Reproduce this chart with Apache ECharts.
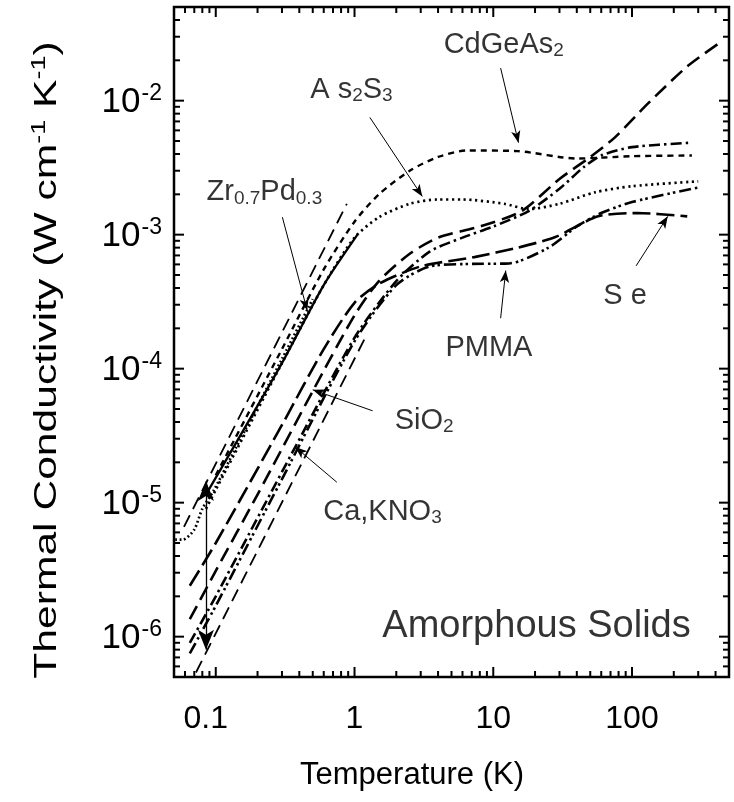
<!DOCTYPE html>
<html><head><meta charset="utf-8">
<script src="https://cdn.jsdelivr.net/npm/echarts@6/dist/echarts.min.js"></script>
<style>html,body{margin:0;padding:0;background:#fff}#c{width:734px;height:802px}</style>
</head><body><div id="c"></div>
<script>
// ---- data (T in K, kappa in W cm^-1 K^-1) ----
const upperBoundT = [0.059, 0.88];
const upperBoundK = [6.6e-6, 1.7e-3];
const lowerBoundT = [0.072, 1.22];
const lowerBoundK = [5.4e-7, 1.78e-4];
const zrpdT = [0.051, 0.058, 0.07, 0.08, 0.097, 0.15, 0.3, 0.5];
const zrpdK = [5.3e-6, 5.3e-6, 6.3e-6, 9.0e-6, 1.24e-5, 2.96e-5, 1.18e-4, 3.3e-4];
const solidT = [0.085, 0.3, 0.6, 1.05];
const solidK = [1.15e-5, 1.1e-4, 4.2e-4, 1.0e-3];
const as2s3T = [0.085, 0.1, 0.3, 0.6, 1, 1.5, 2.5, 4, 6, 12, 18, 30, 54, 100, 300];
const as2s3K = [9e-6, 1.25e-5, 1.1e-4, 4.2e-4, 9.5e-4, 1.35e-3, 1.7e-3, 1.83e-3, 1.83e-3, 1.7e-3, 1.55e-3, 1.7e-3, 2.07e-3, 2.3e-3, 2.5e-3];
const cdgeT = [0.1, 0.3, 0.6, 1, 1.5, 2.5, 4, 6.5, 15, 40, 100, 270];
const cdgeK = [1.6e-5, 1.4e-4, 5.5e-4, 1.25e-3, 2.0e-3, 3.0e-3, 3.8e-3, 4.25e-3, 4.2e-3, 3.7e-3, 3.85e-3, 3.9e-3];
const sio2T = [0.065, 0.1, 0.2, 0.5, 1, 1.5, 2.5, 4, 8, 16, 30, 50, 75, 130, 250, 450];
const sio2K = [1.35e-6, 3.1e-6, 1.15e-5, 6.8e-5, 2.5e-4, 4.5e-4, 7.2e-4, 9.5e-4, 1.15e-3, 1.5e-3, 2.6e-3, 3.8e-3, 5.3e-3, 9.5e-3, 1.8e-2, 2.8e-2];
const caknoT = [0.065, 0.1, 0.374, 1, 2, 3.5, 6, 10, 18, 30, 45, 60, 100, 265];
const caknoK = [9e-7, 2.0e-6, 2.6e-5, 1.7e-4, 4.5e-4, 7.5e-4, 9.5e-4, 1.15e-3, 1.5e-3, 2.2e-3, 3.2e-3, 3.9e-3, 4.5e-3, 4.85e-3];
const pmmaT = [0.065, 0.1, 0.3, 1, 2, 3.5, 7, 13, 25, 40, 60, 100, 300];
const pmmaK = [7.5e-7, 1.7e-6, 1.5e-5, 1.6e-4, 4.2e-4, 5.8e-4, 6.05e-4, 6.1e-4, 8e-4, 1.15e-3, 1.45e-3, 1.75e-3, 2.25e-3];
const seT = [0.065, 0.1, 0.3, 0.6, 1, 1.5, 3, 7.3, 15, 28, 57, 110, 250];
const seK = [2.4e-6, 5e-6, 3.8e-5, 1.4e-4, 3.1e-4, 4.3e-4, 5.8e-4, 6.8e-4, 8e-4, 9.6e-4, 1.37e-3, 1.45e-3, 1.37e-3];
// spread arrow at T = 0.085 K
const spreadT = [0.085, 0.085];
const spreadK = [1.45e-5, 8.0e-7];
// annotation texts
const labelT = [11.9, 0.95, 0.224, 89, 9.3, 3.18, 1.59, 20.5];
const labelK = [2.6e-2, 1.2e-2, 2.07e-3, 3.5e-4, 1.42e-4, 4.1e-5, 8.5e-6, 1.2e-6];
const labelText = ['CdGeAs{s|2}', 'A s{s|2}S{s|3}', 'Zr{s|0.7}Pd{s|0.3}', 'S e', 'PMMA', 'SiO{s|2}', 'Ca,KNO{s|3}', '{big|Amorphous Solids}'];
// annotation arrows: from -> to
const arrowFromT = [11.3, 1.29, 0.302, 107, 11.3, 1.35, 0.746];
const arrowFromK = [1.75e-2, 7.5e-3, 1.35e-3, 5.85e-4, 2.38e-4, 4.85e-5, 1.42e-5];
const arrowToT = [15.2, 3.08, 0.456, 181, 12.3, 0.50, 0.374];
const arrowToK = [4.86e-3, 1.93e-3, 2.72e-4, 1.37e-3, 5.4e-4, 6.95e-5, 2.6e-5];
// axes
const xMin = 0.05, xMax = 500, yMin = 5e-7, yMax = 5e-2;
const xMinorTicks = [];
const yMinorTicks = [];
[0.01,0.1,1,10,100].forEach(d=>{for(let m=1;m<10;m++){const v=d*m; if(v>=xMin&&v<=xMax) xMinorTicks.push([v, m===1]);}});
[1e-7,1e-6,1e-5,1e-4,1e-3,1e-2].forEach(d=>{for(let m=1;m<10;m++){const v=d*m; if(v>=yMin*0.999&&v<=yMax*1.001) yMinorTicks.push([v, m===1]);}});

const FONT = '"Liberation Sans", Arial, Helvetica, sans-serif';
const zip = (a,b)=>a.map((v,i)=>[v,b[i]]);
function curve(T,K,dash,width,smooth){
  return {type:'line', data: zip(T,K), showSymbol:false, symbol:'none', smooth: smooth===undefined?0.25:smooth,
    lineStyle:{color:'#000', width: width||2, type: dash, cap:'butt'}, silent:true, z:3};
}
const chart = echarts.init(document.getElementById('c'), null, {renderer:'canvas'});
const series = [
  curve(upperBoundT, upperBoundK, [13,7], 1.8, false),
  curve(lowerBoundT, lowerBoundK, [13,7], 1.8, false),
  curve(zrpdT, zrpdK, [1.8,2.6], 2.7),
  curve(solidT, solidK, 'solid', 2.3),
  curve(as2s3T, as2s3K, [2.2,3.6], 2.7),
  curve(cdgeT, cdgeK, [6,5], 2.4),
  curve(sio2T, sio2K, [15,7], 2.6),
  curve(caknoT, caknoK, [11,4,2.5,4], 2.6),
  curve(pmmaT, pmmaK, [12,4,2.5,3,2.5,4], 2.6),
  curve(seT, seK, [18,6], 2.6),
  {type:'line', data: zip(spreadT, spreadK), symbol:'none', lineStyle:{opacity:0}, silent:true,
    markLine:{silent:true, symbol:['arrow','arrow'], symbolSize:[12,20], label:{show:false},
      lineStyle:{color:'#000', width:1.3, type:'solid'},
      data:[[{coord:[spreadT[0], spreadK[0]]},{coord:[spreadT[1], spreadK[1]]}]]}},
  {type:'line', data: [], symbol:'none', silent:true,
    markLine:{silent:true, symbol:['none','arrow'], symbolSize:[7,12], label:{show:false},
      lineStyle:{color:'#000', width:1, type:'solid'},
      data: arrowFromT.map((t,i)=>[{coord:[t, arrowFromK[i]]},{coord:[arrowToT[i], arrowToK[i]]}])}},
  {type:'scatter', symbolSize:1, itemStyle:{color:'rgba(0,0,0,0)'}, silent:true, z:5,
    data: labelT.map((t,i)=>[t, labelK[i], labelText[i]]),
    label:{show:true, position:'inside', color:'#000', fontFamily:FONT, fontSize:29,
      formatter: p=>p.data[2],
      rich:{ s:{fontSize:19, fontFamily:FONT, color:'#000', verticalAlign:'bottom', padding:[12,0,0,0]},
             big:{fontSize:38, fontFamily:FONT, color:'#000'} }}},
  {type:'custom', silent:true, clip:false, z:6, data: xMinorTicks.map(d=>[d[0], yMin, d[1]?1:0]),
    renderItem:(params, api)=>{
      const v = api.value(0), major = api.value(2)===1, len = major?10:6;
      const b = api.coord([v, yMin]), t = api.coord([v, yMax]);
      const st = {stroke:'#000', lineWidth:2};
      return {type:'group', children:[
        {type:'line', shape:{x1:b[0],y1:b[1],x2:b[0],y2:b[1]-len}, style:st},
        {type:'line', shape:{x1:t[0],y1:t[1],x2:t[0],y2:t[1]+len}, style:st}]};
    }},
  {type:'custom', silent:true, clip:false, z:6, data: yMinorTicks.map(d=>[xMin, d[0], d[1]?1:0]),
    renderItem:(params, api)=>{
      const v = api.value(1), major = api.value(2)===1, len = major?10:6;
      const l = api.coord([xMin, v]), r = api.coord([xMax, v]);
      const st = {stroke:'#000', lineWidth:2};
      return {type:'group', children:[
        {type:'line', shape:{x1:l[0],y1:l[1],x2:l[0]+len,y2:l[1]}, style:st},
        {type:'line', shape:{x1:r[0],y1:r[1],x2:r[0]-len,y2:r[1]}, style:st}]};
    }}
];
function isPow10(v){const l=Math.log10(v); return Math.abs(l-Math.round(l))<1e-6;}
chart.setOption({
  animation:false,
  backgroundColor:'#fff',
  grid:{left:174, top:7, right:5, bottom:125, show:true, borderColor:'#000', borderWidth:2.5, backgroundColor:'transparent'},
  xAxis:{type:'log', logBase:10, min:xMin, max:xMax,
    axisLine:{show:false}, axisTick:{show:false}, splitLine:{show:false}, minorTick:{show:false},
    axisLabel:{fontFamily:FONT, fontSize:32, color:'#000', margin:26,
      formatter:v=>{ if(!isPow10(v)) return ''; const s=String(+v.toPrecision(6)); return v<0.5 ? '{l|'+s+'}' : s; },
      rich:{l:{fontSize:32, fontFamily:FONT, color:'#000', padding:[0,20,0,0]}}}},
  yAxis:{type:'log', logBase:10, min:yMin, max:yMax,
    axisLine:{show:false}, axisTick:{show:false}, splitLine:{show:false}, minorTick:{show:false},
    axisLabel:{fontFamily:FONT, color:'#000', margin:12,
      formatter:v=>isPow10(v)? '{b|10}{e|'+Math.round(Math.log10(v))+'}' : '',
      rich:{b:{fontSize:35, fontFamily:FONT, color:'#000', verticalAlign:'bottom'},
            e:{fontSize:23, fontFamily:FONT, color:'#000', verticalAlign:'bottom', padding:[0,0,15,1]}}}},
  graphic:[
    {type:'text', x:47, y:360, z:10, rotation:Math.PI/2, scaleX:1.42, scaleY:1.05,
      style:{text:'Thermal Conductivity (W cm{e|-1} K{e|-1})', fontFamily:FONT, fontSize:30, fill:'#000',
        align:'center', verticalAlign:'middle',
        rich:{e:{fontSize:19, fontFamily:FONT, fill:'#000', verticalAlign:'bottom', padding:[0,0,14,0]}}}},
    {type:'text', x:412, y:775, z:10,
      style:{text:'Temperature (K)', fontFamily:FONT, fontSize:31, fill:'#000', align:'center', verticalAlign:'middle'}}
  ],
  series: series
});
</script></body></html>
